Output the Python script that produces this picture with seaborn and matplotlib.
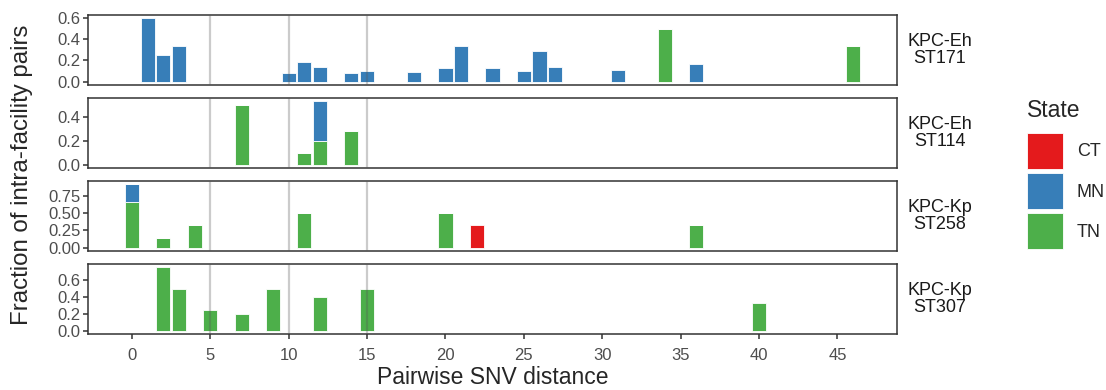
import numpy as np
import pandas as pd
import seaborn as sns
import matplotlib.pyplot as plt
from matplotlib.patches import Patch

# categories and colours
states = ['CT', 'MN', 'TN']
state_colors = ['#E41A1C', '#377EB8', '#4DAF4A']
lineages = ['KPC-Eh\nST171', 'KPC-Eh\nST114', 'KPC-Kp\nST258', 'KPC-Kp\nST307']

# KPC-Eh ST171
st171_dist = [1, 2, 3, 10, 11, 12, 14, 15, 18, 20, 21, 23, 25, 26, 27, 31, 34, 36, 46]
st171_frac = [0.6, 0.25, 0.333, 0.083, 0.182, 0.143, 0.077, 0.1, 0.091, 0.125,
              0.333, 0.125, 0.1, 0.286, 0.143, 0.111, 0.5, 0.167, 0.333]
st171_state = ['MN'] * 16 + ['TN', 'MN', 'TN']

# KPC-Eh ST114
st114_dist = [7, 11, 12, 12, 14]
st114_frac = [0.5, 0.1, 0.2, 0.333, 0.286]
st114_state = ['TN', 'TN', 'TN', 'MN', 'TN']

# KPC-Kp ST258
st258_dist = [0, 0, 2, 4, 11, 20, 22, 36]
st258_frac = [0.667, 0.25, 0.143, 0.333, 0.5, 0.5, 0.333, 0.333]
st258_state = ['TN', 'MN', 'TN', 'TN', 'TN', 'TN', 'CT', 'TN']

# KPC-Kp ST307
st307_dist = [2, 3, 5, 7, 9, 12, 15, 40]
st307_frac = [0.75, 0.5, 0.25, 0.2, 0.5, 0.4, 0.5, 0.333]
st307_state = ['TN'] * 8

# y tick labels per panel
yticks = [
    ['0.0', '0.2', '0.4', '0.6'],
    ['0.0', '0.2', '0.4'],
    ['0.00', '0.25', '0.50', '0.75'],
    ['0.0', '0.2', '0.4', '0.6'],
]
xticks = [0, 5, 10, 15, 20, 25, 30, 35, 40, 45]
vlines = [5, 10, 15]

panels = [
    (st171_dist, st171_frac, st171_state),
    (st114_dist, st114_frac, st114_state),
    (st258_dist, st258_frac, st258_state),
    (st307_dist, st307_frac, st307_state),
]

sns.set_style('white')
plt.rcParams['font.family'] = ['Liberation Sans', 'DejaVu Sans']

palette = dict(zip(states, state_colors))

fig, axes = plt.subplots(4, 1, figsize=(11.06, 3.9), dpi=100, sharex=True)
fig.subplots_adjust(left=0.0796, right=0.811, top=0.9615, bottom=0.1436, hspace=0.19)

for i, (ax, (dist, frac, st), lab, yt) in enumerate(zip(axes, panels, lineages, yticks)):
    df = pd.DataFrame({'dist': dist, 'frac': frac, 'State': st})
    sns.histplot(data=df, x='dist', weights='frac', hue='State', hue_order=states,
                 palette=palette, multiple='stack', discrete=True, shrink=0.9,
                 edgecolor='white', linewidth=0.6, alpha=1, legend=False, ax=ax)
    top = df.groupby('dist')['frac'].sum().max()
    ax.set_ylim(-0.05 * top, 1.05 * top)
    ax.set_yticks([float(t) for t in yt])
    ax.set_yticklabels(yt, fontsize=12)
    for v in vlines:
        ax.axvline(v, color='#555555', alpha=0.3, lw=1.6, zorder=5)
    ax.set_ylabel('')
    ax.set_xlabel('')
    for s in ax.spines.values():
        s.set_color('#333333')
        s.set_linewidth(1.1)
    ax.tick_params(axis='both', length=3.5, width=1.1, color='#333333',
                   labelcolor='#4D4D4D', labelsize=12, pad=2, left=True,
                   bottom=(i == 3))
    ax.text(1.053, 0.5, lab, transform=ax.transAxes, ha='center', va='center',
            fontsize=13, color='#1A1A1A', linespacing=0.95)

axes[-1].set_xlim(-2.8, 48.8)
axes[-1].set_xticks(xticks)
axes[-1].tick_params(axis='x', pad=6.5)
axes[-1].set_xlabel('Pairwise SNV distance', fontsize=16.5, labelpad=2.5)
fig.text(0.02, 0.553, 'Fraction of intra-facility pairs', rotation=90,
         ha='center', va='center', fontsize=17.3)

# legend: title as its own text, keys as a legend below it
fig.text(0.9286, 0.70, 'State', ha='left', va='baseline', fontsize=16.5)
handles = [Patch(facecolor=c, edgecolor='white', linewidth=0.6) for c in state_colors]
leg = fig.legend(handles, states, loc='upper left',
                 bbox_to_anchor=(0.9286, 0.659), frameon=False, fontsize=13,
                 handlelength=2.0, handleheight=2.7,
                 labelspacing=0.22, handletextpad=0.75, borderaxespad=0,
                 borderpad=0)

fig.savefig('out.png', dpi=100)
